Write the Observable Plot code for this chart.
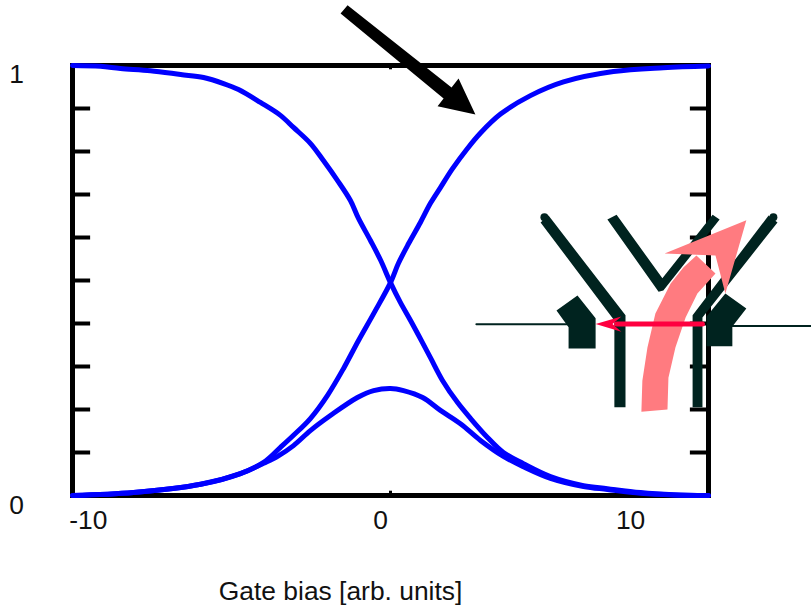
<!DOCTYPE html>
<html>
<head>
<meta charset="utf-8">
<script src="https://cdn.jsdelivr.net/npm/d3@7"></script>
<script src="https://cdn.jsdelivr.net/npm/@observablehq/plot@0.6"></script>
<style>html,body{margin:0;padding:0;background:#fff}svg{display:block}</style>
</head>
<body>
<div id="chart"></div>
<script>
const falling = [[-10,1],[-9.12,.998],[-8.49,.993],[-7.55,.988],[-6.6,.979],[-5.88,.972],[-5.25,.958],[-4.78,.944],[-4.09,.914],[-3.46,.884],[-3.05,.856],[-2.52,.819],[-2.11,.779],[-1.67,.733],[-1.26,.686],[-1.01,.645],[-.63,.593],[-.31,.547],[0,.495],[.31,.449],[.63,.407],[1.01,.355],[1.26,.32],[1.64,.267],[2.11,.216],[2.52,.179],[3.05,.135],[3.55,.1],[4.18,.074],[5.03,.044],[6.07,.023],[6.82,.016],[7.86,.007],[8.9,.002],[10,0]];
const rising = [[-10,0],[-8.08,.007],[-5.97,.026],[-4.72,.051],[-3.99,.077],[-3.46,.112],[-3.05,.14],[-2.52,.179],[-1.98,.233],[-1.48,.295],[-1.01,.36],[-.53,.423],[0,.495],[.25,.54],[.57,.586],[.94,.635],[1.26,.68],[1.57,.716],[1.95,.76],[2.42,.807],[2.83,.843],[3.46,.887],[4.4,.93],[5.44,.962],[7.01,.986],[8.58,.995],[10,.999]];
const bump = [[-10,0],[-8.08,.007],[-5.97,.026],[-4.72,.051],[-3.99,.075],[-3.55,.091],[-3.05,.116],[-2.52,.151],[-1.89,.186],[-1.04,.228],[-.53,.244],[0,.249],[.41,.244],[1.01,.228],[1.57,.198],[2.2,.167],[2.83,.128],[3.55,.091],[4.18,.067],[5.03,.04],[6.07,.021],[6.82,.014],[7.86,.005],[8.9,.001],[10,0]];

const yTicks = [.1,.2,.3,.4,.5,.6,.7,.8,.9];
const xLabels = [[-9.5,"-10"],[-.31,"0"],[7.55,"10"]];
const yLabels = [[.979,"1"],[-.023,"0"]];
const xTitle = "Gate bias [arb. units]";

const blackArrow = [[-1.35,1.14],[1.92,.949],[2.14,.97],[2.67,.886],[1.48,.905],[1.67,.923],[-1.57,1.121]];
const leftArm = [[4.72,.635],[4.97,.651],[7.39,.419],[7.39,.205],[7.04,.205],[7.04,.407]];
const rightArm = [[11.89,.651],[12.17,.635],[9.81,.414],[9.81,.205],[9.5,.205],[9.5,.419]];
const middleV = [[6.82,.642],[7.11,.653],[8.55,.505],[10.13,.653],[10.35,.642],[8.58,.477],[8.43,.474]];
const leftFoot = [[5.22,.43],[5.88,.465],[6.45,.412],[6.45,.342],[5.6,.342],[5.6,.391]];
const rightFoot = [[9.94,.347],[9.94,.416],[10.53,.47],[11.19,.435],[10.75,.393],[10.75,.347]];
const armCaps = [[4.84,.647],[12.04,.647]];
const leftWire = [[2.7,.398],[5.6,.398]];
const rightWire = [[10.75,.394],[13.24,.394]];
const pinkBand = [[7.89,.195],[7.92,.267],[8.08,.344],[8.33,.423],[8.81,.493],[9.21,.53],[9.62,.558],[10.22,.516],[9.65,.47],[9.28,.414],[8.96,.344],[8.74,.274],[8.71,.2]];
const pinkHead = [[8.62,.563],[11.19,.64],[10.53,.47],[10.22,.558]];
const redShaft = [[7.11,.399],[9.81,.399]];
const redHead = [[6.45,.399],[7.26,.416],[6.98,.399],[7.26,.381]];
const xMinorTicks = [0];

const DARK = "#00231f", PINK = "#ff7b80", RED = "#ff0040", BLUE = "#0000ff";
const X = d => d[0], Y = d => d[1];
const shape = (pts, fill) => Plot.line(pts, {x: X, y: Y, fill, stroke: "none"});
const path = (pts, stroke, strokeWidth) => Plot.line(pts, {x: X, y: Y, stroke, strokeWidth, strokeLinejoin: "round"});
const curve = pts => Plot.line(pts, {x: X, y: Y, stroke: BLUE, strokeWidth: 5, curve: "catmull-rom"});
const FONT = "'Liberation Sans', Arial, sans-serif";
const LABEL = 26.4;

const chart = Plot.plot({
  width: 811, height: 605,
  marginLeft: 72, marginRight: 103, marginTop: 65, marginBottom: 110,
  x: {domain: [-10, 10], axis: null},
  y: {domain: [0, 1], axis: null},
  style: {background: "#fff", fontFamily: FONT},
  marks: [
    Plot.ruleY(yTicks, {x1: -10, x2: -9.43, stroke: "black", strokeWidth: 4}),
    Plot.ruleY(yTicks, {x1: 9.43, x2: 10, stroke: "black", strokeWidth: 4}),
    Plot.ruleX(xMinorTicks, {y1: 0, y2: .01, stroke: "black", strokeWidth: 3}),
    Plot.ruleX(xMinorTicks, {y1: .99, y2: 1, stroke: "black", strokeWidth: 3}),
    Plot.frame({stroke: "black", strokeWidth: 5}),
    curve(falling),
    curve(rising),
    curve(bump),
    shape(blackArrow, "black"),
    shape(leftArm, DARK),
    shape(rightArm, DARK),
    shape(middleV, DARK),
    shape(leftFoot, DARK),
    shape(rightFoot, DARK),
    Plot.dot(armCaps, {x: X, y: Y, r: 4, fill: DARK}),
    path(leftWire, DARK, 2),
    path(rightWire, DARK, 2),
    shape(pinkBand, PINK),
    shape(pinkHead, PINK),
    path(redShaft, RED, 5),
    shape(redHead, RED),
    Plot.text(xLabels, {x: X, y: -.058, text: Y, fontSize: LABEL, fill: "#111", fontFamily: FONT}),
    Plot.text(yLabels, {x: -11.76, y: X, text: Y, fontSize: LABEL, fill: "#111", fontFamily: FONT}),
    Plot.text([xTitle], {x: -1.57, y: -.223, text: d => d, fontSize: LABEL, fill: "#111", fontFamily: FONT})
  ]
});
document.getElementById("chart").append(chart);
</script>
</body>
</html>
